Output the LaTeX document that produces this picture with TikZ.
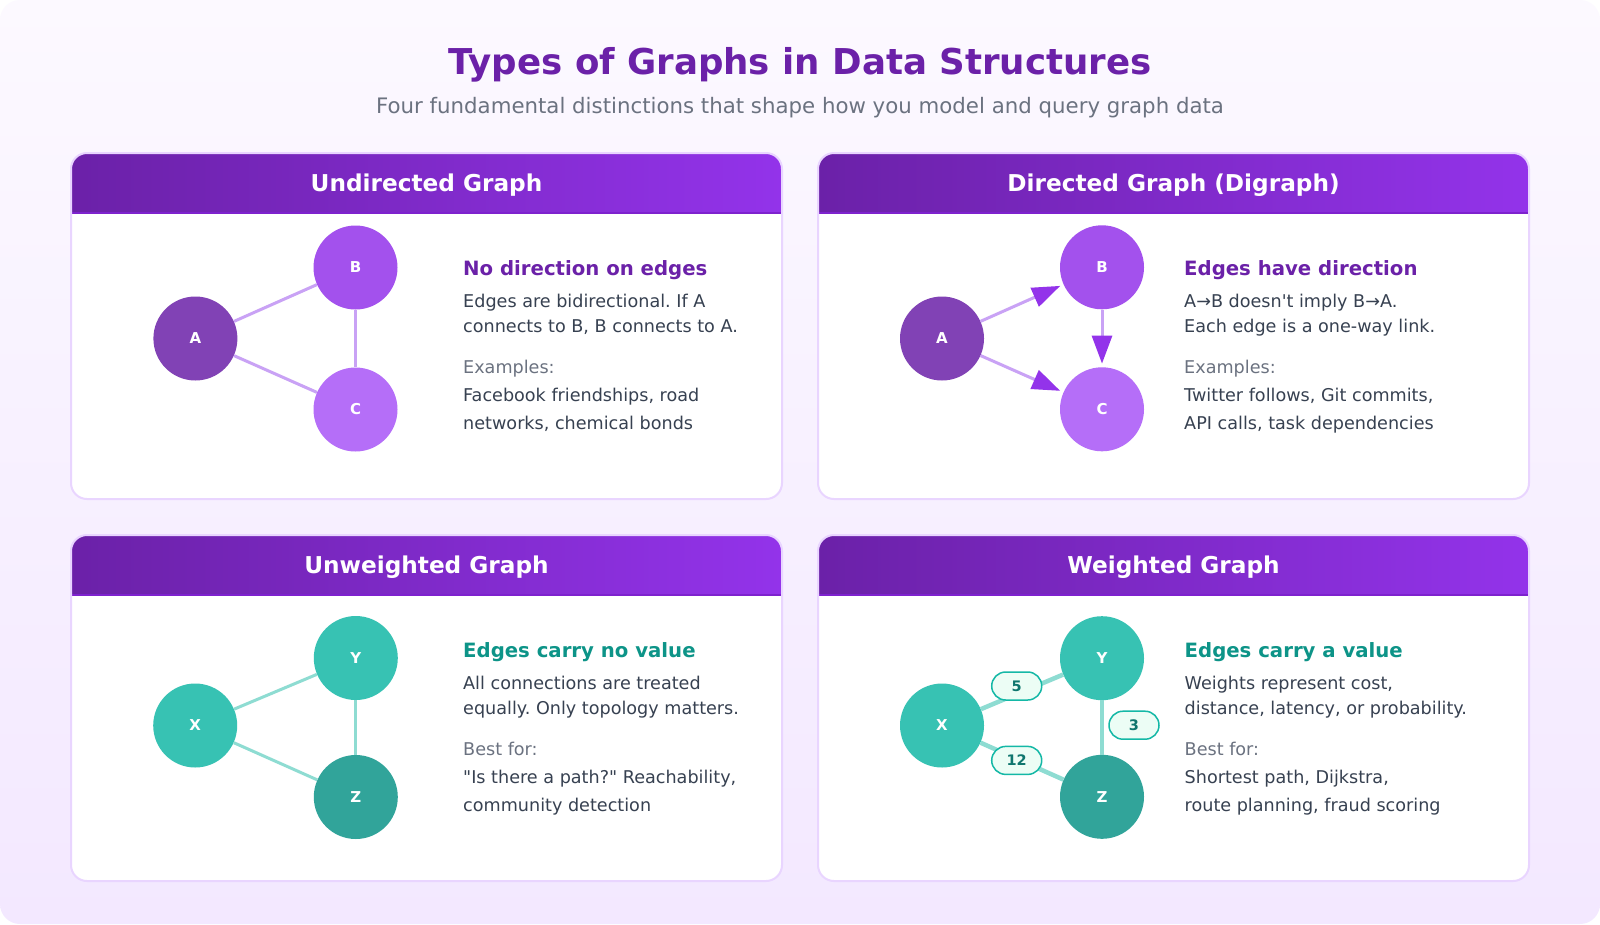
\documentclass[tikz,border=0pt]{standalone}
\usepackage{fontspec}
\setmainfont{DejaVu Sans}[Ligatures=TeXOff]
\usetikzlibrary{arrows.meta}
\frenchspacing

\definecolor{bgtop}{HTML}{FCF9FF}
\definecolor{bgbot}{HTML}{F3E8FF}
\definecolor{titlec}{HTML}{6B21A8}
\definecolor{mutedc}{HTML}{6B7280}
\definecolor{bodyc}{HTML}{374151}
\definecolor{hdrL}{HTML}{6B21A8}
\definecolor{hdrR}{HTML}{9333EA}
\definecolor{hdrline}{HTML}{7E22CE}
\definecolor{cardborder}{HTML}{E9D5FF}
\definecolor{tealhead}{HTML}{0D9488}
\definecolor{nA}{HTML}{8142B5}
\definecolor{nB}{HTML}{A351ED}
\definecolor{nC}{HTML}{B56EF8}
\definecolor{nT}{HTML}{37C2B3}
\definecolor{nZ}{HTML}{31A49A}
\definecolor{pedge}{HTML}{C9A2F5}
\definecolor{tedgec}{HTML}{8EDCD2}
\definecolor{arrowc}{HTML}{9333EA}
\definecolor{wborder}{HTML}{14B8A6}
\definecolor{wfill}{HTML}{ECFDF5}
\definecolor{wtext}{HTML}{0F766E}

\tikzset{
  titletext/.style={font=\bfseries\fontsize{35.6}{40}\selectfont, text=titlec, inner sep=0pt},
  subtext/.style={font=\fontsize{21.3}{25}\selectfont, text=mutedc, inner sep=0pt},
  hdrtext/.style={font=\bfseries\fontsize{23.2}{27}\selectfont, text=white, inner sep=0pt},
  headp/.style={font=\bfseries\fontsize{19.7}{24}\selectfont, text=titlec, inner sep=0pt, anchor=base west},
  headt/.style={font=\bfseries\fontsize{19.7}{24}\selectfont, text=tealhead, inner sep=0pt, anchor=base west},
  bodyt/.style={font=\fontsize{17.6}{21}\selectfont, text=bodyc, inner sep=0pt, anchor=base west},
  mutedt/.style={font=\fontsize{17.6}{21}\selectfont, text=mutedc, inner sep=0pt, anchor=base west},
  gnode/.style={circle, minimum size=84pt, inner sep=0pt, text=white, font=\bfseries\fontsize{15}{18}\selectfont},
  uedge/.style={line width=3pt, draw=pedge},
  tedge/.style={line width=3pt, draw=tedgec},
  wtedge/.style={line width=4.5pt, draw=tedgec},
  darrow/.style={line width=3pt, draw=pedge, -{Triangle[length=28pt,width=20pt,color=arrowc]}, shorten >=3.5pt},
  wlabel/.style={rounded corners=14pt, draw=wborder, fill=wfill, line width=1.5pt, minimum width=50pt, minimum height=28pt, inner sep=0pt, text=wtext, font=\bfseries\fontsize{14.5}{16}\selectfont},
}

\newcommand{\cardframe}[2]{%
  \fill[white, rounded corners=16pt] (0,0) rectangle (711,346);
  \begin{scope}
    \clip[rounded corners=16pt] (0,0) rectangle (711,346);
    \shade[left color=hdrL, right color=hdrR] (0,0) rectangle (711,60);
  \end{scope}
  \draw[hdrline, line width=1.5pt] (0,60) -- (711,60);
  \draw[cardborder, line width=2pt, rounded corners=16pt] (0,0) rectangle (711,346);
  \node[hdrtext, anchor=base] (#2) at (355.5,38.5) {#1};
}

\begin{document}
\begin{tikzpicture}[x=1pt,y=-1pt]
  \useasboundingbox (0,0) rectangle (1600,924);
  \fill[white] (0,0) rectangle (1600,924);
  \shade[top color=bgtop, bottom color=bgbot, rounded corners=20pt] (0,0) rectangle (1600,924);

  \node[titletext, anchor=base] (title) at (800,74) {Types of Graphs in Data Structures};
  \node[subtext, anchor=base] (subtitle) at (800,113) {Four fundamental distinctions that shape how you model and query graph data};

  % cards
  \begin{scope}[shift={(71,153)}]\cardframe{Undirected Graph}{hd1}\end{scope}
  \begin{scope}[shift={(818,153)}]\cardframe{Directed Graph (Digraph)}{hd2}\end{scope}
  \begin{scope}[shift={(71,535)}]\cardframe{Unweighted Graph}{hd3}\end{scope}
  \begin{scope}[shift={(818,535)}]\cardframe{Weighted Graph}{hd4}\end{scope}

  % card 1: undirected
  \node[gnode, fill=nA] (A1) at (195.4,338.5) {A};
  \node[gnode, fill=nB] (B1) at (355.5,267.5) {B};
  \node[gnode, fill=nC] (C1) at (355.5,409.5) {C};
  \draw[uedge] (A1) -- (B1);
  \draw[uedge] (A1) -- (C1);
  \draw[uedge] (B1) -- (C1);
  \node[headp] (t1a) at (463,275.5) {No direction on edges};
  \node[bodyt] (t1b) at (463,307.3) {Edges are bidirectional. If A};
  \node[bodyt] (t1c) at (463,332.2) {connects to B, B connects to A.};
  \node[mutedt] (t1d) at (463,373.2) {Examples:};
  \node[bodyt] (t1e) at (463,401.5) {Facebook friendships, road};
  \node[bodyt] (t1f) at (463,429.8) {networks, chemical bonds};

  % card 2: directed
  \node[gnode, fill=nA] (A2) at (942,338.5) {A};
  \node[gnode, fill=nB] (B2) at (1102,267.3) {B};
  \node[gnode, fill=nC] (C2) at (1102,409.3) {C};
  \draw[darrow] (A2) -- (B2);
  \draw[darrow] (A2) -- (C2);
  \draw[darrow] (B2) -- (C2);
  \node[headp] (t2a) at (1184,275.5) {Edges have direction};
  \node[bodyt] (t2b) at (1184,307.3) {A→B doesn't imply B→A.};
  \node[bodyt] (t2c) at (1184,332.2) {Each edge is a one-way link.};
  \node[mutedt] (t2d) at (1184,373.2) {Examples:};
  \node[bodyt] (t2e) at (1184,401.5) {Twitter follows, Git commits,};
  \node[bodyt] (t2f) at (1184,429.8) {API calls, task dependencies};

  % card 3: unweighted
  \node[gnode, fill=nT] (X3) at (195.2,725.5) {X};
  \node[gnode, fill=nT] (Y3) at (355.8,658) {Y};
  \node[gnode, fill=nZ] (Z3) at (355.8,797) {Z};
  \draw[tedge] (X3) -- (Y3);
  \draw[tedge] (X3) -- (Z3);
  \draw[tedge] (Y3) -- (Z3);
  \node[headt] (t3a) at (463,657.5) {Edges carry no value};
  \node[bodyt] (t3b) at (463,689.3) {All connections are treated};
  \node[bodyt] (t3c) at (463,714.2) {equally. Only topology matters.};
  \node[mutedt] (t3d) at (463,755.2) {Best for:};
  \node[bodyt] (t3e) at (463,783.5) {"Is there a path?" Reachability,};
  \node[bodyt] (t3f) at (463,811.8) {community detection};

  % card 4: weighted
  \node[gnode, fill=nT] (X4) at (942,725.5) {X};
  \node[gnode, fill=nT] (Y4) at (1102,658.2) {Y};
  \node[gnode, fill=nZ] (Z4) at (1102,796.8) {Z};
  \draw[wtedge] (X4) -- (Y4);
  \draw[wtedge] (X4) -- (Z4);
  \draw[wtedge] (Y4) -- (Z4);
  \node[wlabel] (w5) at (1016.7,686) {5};
  \node[wlabel] (w12) at (1016.7,760.4) {12};
  \node[wlabel] (w3) at (1134,725.2) {3};
  \node[headt] (t4a) at (1184.5,657.5) {Edges carry a value};
  \node[bodyt] (t4b) at (1184.5,689.3) {Weights represent cost,};
  \node[bodyt] (t4c) at (1184.5,714.2) {distance, latency, or probability.};
  \node[mutedt] (t4d) at (1184.5,755.2) {Best for:};
  \node[bodyt] (t4e) at (1184.5,783.5) {Shortest path, Dijkstra,};
  \node[bodyt] (t4f) at (1184.5,811.8) {route planning, fraud scoring};
\end{tikzpicture}
\end{document}
